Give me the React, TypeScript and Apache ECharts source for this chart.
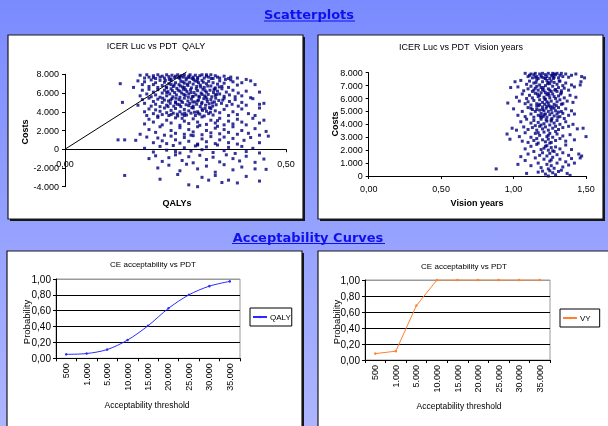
import React, { useEffect, useRef } from 'react';
import * as echarts from 'echarts';

// ---- QALY scatter (incremental QALYs, incremental costs) ----
const qalyBandTop = [[0.17,7900],[0.18,7600],[0.185,7950],[0.19,7700],[0.20,7850],[0.205,7550],[0.21,7950],[0.215,7700],[0.22,7800],[0.225,7600],[0.23,7950],[0.235,7750],[0.24,7500],[0.242,7900],[0.248,7650],[0.25,7800],[0.255,7950],[0.26,7550],[0.263,7850],[0.268,7700],[0.27,7950],[0.275,7600],[0.28,7800],[0.283,7950],[0.288,7550],[0.29,7700],[0.295,7900],[0.30,7650],[0.305,7850],[0.31,7950],[0.315,7600],[0.32,7800],[0.325,7700],[0.33,7950],[0.335,7550],[0.34,7850],[0.345,7700],[0.35,7600],[0.36,7800],[0.37,7550],[0.375,7700],[0.39,7600],[0.41,7450],[0.2,7650],[0.26,7750],[0.3,7500],[0.32,7950]];
const qalyBand7000 = [[0.125,7000],[0.155,6600],[0.165,7300],[0.175,6900],[0.18,7200],[0.19,6700],[0.195,7400],[0.20,6900],[0.205,7100],[0.21,6600],[0.215,7350],[0.22,6800],[0.225,7150],[0.23,6550],[0.235,7000],[0.24,7300],[0.245,6700],[0.25,7100],[0.253,6500],[0.258,6900],[0.262,7250],[0.266,6650],[0.27,7050],[0.274,7400],[0.278,6800],[0.282,7150],[0.286,6550],[0.29,6950],[0.294,7300],[0.298,6700],[0.302,7100],[0.306,6850],[0.31,7350],[0.315,6600],[0.32,7000],[0.325,7250],[0.33,6750],[0.335,7100],[0.34,6550],[0.345,6950],[0.35,7300],[0.355,6700],[0.36,7050],[0.37,6600],[0.38,7200],[0.39,6850],[0.40,7100],[0.42,7300],[0.43,6900],[0.375,7400],[0.27,6600],[0.24,6900]];
const qalyBand6000 = [[0.17,5700],[0.175,6300],[0.185,5900],[0.19,6400],[0.195,5600],[0.20,6100],[0.205,5800],[0.21,6350],[0.215,5550],[0.22,6000],[0.225,6300],[0.23,5700],[0.233,6150],[0.237,5900],[0.24,6450],[0.244,5600],[0.248,6050],[0.252,5800],[0.256,6300],[0.26,5550],[0.264,6000],[0.268,6400],[0.272,5750],[0.276,6150],[0.28,5900],[0.284,6350],[0.288,5600],[0.292,6050],[0.296,5800],[0.30,6250],[0.304,5550],[0.308,6000],[0.312,6400],[0.316,5700],[0.32,6100],[0.324,5850],[0.328,6300],[0.332,5600],[0.336,6050],[0.34,5750],[0.345,6200],[0.35,5900],[0.355,6450],[0.36,5650],[0.365,6100],[0.372,5800],[0.38,6300],[0.385,5600],[0.392,6000],[0.40,5700],[0.41,6200],[0.42,5500],[0.44,6100],[0.29,5650],[0.26,6200],[0.31,5850],[0.23,6050]];
const qalyBand5000 = [[0.13,5000],[0.165,4700],[0.175,5300],[0.18,4900],[0.19,5450],[0.195,4600],[0.20,5100],[0.205,4800],[0.21,5350],[0.215,4550],[0.22,5000],[0.225,5250],[0.23,4700],[0.234,5150],[0.238,4900],[0.242,5400],[0.246,4600],[0.25,5050],[0.254,4800],[0.258,5300],[0.262,4550],[0.266,5000],[0.27,5450],[0.274,4750],[0.278,5150],[0.282,4900],[0.286,5350],[0.29,4600],[0.294,5050],[0.298,4800],[0.302,5250],[0.306,4550],[0.31,5000],[0.314,5400],[0.318,4700],[0.322,5100],[0.326,4850],[0.33,5300],[0.334,4600],[0.338,5050],[0.342,4750],[0.348,5200],[0.354,4900],[0.36,5450],[0.366,4650],[0.372,5100],[0.378,4800],[0.385,5300],[0.392,4600],[0.40,5000],[0.41,4700],[0.425,5400],[0.44,4800],[0.45,4900],[0.28,4650],[0.3,5150],[0.25,4950]];
const qalyBand4000 = [[0.18,4000],[0.185,3600],[0.19,4300],[0.20,3800],[0.205,4200],[0.21,3550],[0.215,4050],[0.22,3700],[0.225,4400],[0.23,3900],[0.235,3600],[0.24,4150],[0.245,3850],[0.25,4350],[0.255,3550],[0.26,4000],[0.265,3750],[0.27,4250],[0.275,3650],[0.28,4100],[0.285,3850],[0.29,4400],[0.295,3600],[0.30,4000],[0.305,3750],[0.31,4300],[0.315,3550],[0.32,4050],[0.325,3800],[0.33,4350],[0.335,3650],[0.34,4100],[0.35,3900],[0.36,4250],[0.37,3600],[0.38,4000],[0.39,3700],[0.40,4300],[0.415,3800],[0.43,3600],[0.44,4400],[0.27,3600],[0.24,3700]];
const qalyBandCore = [[0.227,7350],[0.243,6250],[0.251,5450],[0.259,4750],[0.267,7200],[0.273,6350],[0.279,5550],[0.287,4450],[0.291,7450],[0.297,6450],[0.303,5650],[0.309,4850],[0.313,7150],[0.317,6250],[0.321,5350],[0.327,4450],[0.331,7550],[0.337,6350],[0.341,5450],[0.233,4550],[0.239,5250],[0.247,6850],[0.257,7650],[0.263,5150],[0.271,3850],[0.277,6950],[0.281,7650],[0.289,5050],[0.293,3950],[0.299,7250],[0.307,6650],[0.311,4150],[0.319,5550],[0.323,6750],[0.329,3950],[0.333,4950],[0.339,6450],[0.221,5450],[0.229,6650],[0.236,7450],[0.254,3750],[0.261,6750],[0.269,5850],[0.285,6050],[0.301,3850],[0.317,4350],[0.343,5850],[0.349,6650],[0.357,5250],[0.363,7450]];
const qalyBand3000 = [[0.18,2700],[0.19,3200],[0.2,2900],[0.21,3400],[0.22,2600],[0.23,3100],[0.24,2800],[0.25,3350],[0.26,2550],[0.27,3000],[0.28,2750],[0.29,3250],[0.3,2900],[0.31,3450],[0.32,2650],[0.33,3100],[0.34,2800],[0.35,3300],[0.36,2600],[0.37,3000],[0.38,2700],[0.39,3200],[0.4,2900],[0.41,2600],[0.425,3300],[0.44,2800],[0.45,3100],[0.265,3300],[0.305,2550],[0.345,3050]];
const qalyBand2000 = [[0.17,1600],[0.19,2100],[0.205,1800],[0.215,2400],[0.225,1500],[0.24,2000],[0.25,1700],[0.26,2300],[0.27,1600],[0.28,2100],[0.29,1850],[0.3,2400],[0.31,1550],[0.32,2000],[0.33,1750],[0.34,2250],[0.35,1650],[0.36,2100],[0.37,1800],[0.38,2400],[0.39,1600],[0.4,2000],[0.415,1700],[0.43,2200],[0.44,1500],[0.455,1900],[0.285,1500],[0.345,2450]];
const qalyBand1000 = [[0.12,1000],[0.135,1000],[0.16,950],[0.185,1300],[0.2,700],[0.21,1200],[0.22,900],[0.23,600],[0.24,1400],[0.25,1000],[0.26,650],[0.27,1250],[0.28,850],[0.29,1450],[0.3,550],[0.31,1100],[0.32,800],[0.33,1350],[0.34,600],[0.35,1000],[0.36,1300],[0.37,700],[0.38,1150],[0.39,550],[0.405,950],[0.42,1250],[0.44,700],[0.46,1400]];
const qalyBandZero = [[0.18,100],[0.2,-300],[0.215,300],[0.23,-100],[0.245,400],[0.26,-400],[0.27,150],[0.285,-200],[0.295,350],[0.31,-50],[0.32,250],[0.335,-350],[0.345,450],[0.36,-150],[0.37,200],[0.385,-450],[0.4,300],[0.41,-250],[0.425,100],[0.44,-400],[0.3,450],[0.25,-250]];
const qalyBandNeg1 = [[0.19,-1000],[0.205,-700],[0.22,-1300],[0.235,-900],[0.25,-600],[0.265,-1200],[0.28,-800],[0.29,-1450],[0.305,-650],[0.32,-1100],[0.335,-850],[0.35,-1350],[0.365,-600],[0.38,-1000],[0.395,-1250],[0.41,-750],[0.43,-1400],[0.45,-1050]];
const qalyBandNeg2 = [[0.21,-2000],[0.235,-1700],[0.26,-2300],[0.275,-1600],[0.3,-2100],[0.32,-1800],[0.34,-2450],[0.36,-1650],[0.38,-2200],[0.4,-1900],[0.43,-2100],[0.455,-2150]];
const qalyBandNeg3 = [[0.135,-2800],[0.215,-3200],[0.255,-2700],[0.28,-3800],[0.3,-4000],[0.31,-3000],[0.325,-3300],[0.34,-2800],[0.355,-3550],[0.37,-3300],[0.39,-3600],[0.41,-2900],[0.44,-3400]];

// ---- Vision years scatter ----
const visBandTop = [[1.08,7950],[1.1,7700],[1.12,7900],[1.13,7600],[1.14,7850],[1.15,7950],[1.16,7700],[1.17,7550],[1.18,7900],[1.19,7750],[1.2,7950],[1.21,7600],[1.22,7850],[1.23,7700],[1.24,7950],[1.25,7550],[1.26,7800],[1.27,7950],[1.28,7650],[1.29,7850],[1.3,7950],[1.31,7600],[1.32,7800],[1.33,7950],[1.34,7700],[1.36,7900],[1.38,7650],[1.4,7800],[1.43,7900],[1.47,7700],[1.49,7600],[1.15,7650],[1.22,7550],[1.28,7900],[1.11,7800]];
const visBand7000 = [[0.98,6850],[1.01,7300],[1.03,6900],[1.05,7400],[1.07,6600],[1.09,7100],[1.1,6750],[1.11,7350],[1.12,6950],[1.13,6550],[1.14,7200],[1.15,6800],[1.16,7450],[1.17,6650],[1.18,7050],[1.19,6850],[1.2,7300],[1.21,6600],[1.22,7000],[1.23,7400],[1.24,6750],[1.25,7150],[1.26,6550],[1.27,6950],[1.28,7250],[1.29,6700],[1.3,7100],[1.31,6850],[1.32,7350],[1.33,6600],[1.34,7000],[1.35,6800],[1.36,7200],[1.38,6650],[1.4,7050],[1.42,6900],[1.46,7050],[1.465,7300],[1.2,6700],[1.26,7350],[1.16,6950]];
const visBand6000 = [[0.96,5650],[1.02,6100],[1.04,5800],[1.06,6350],[1.08,5600],[1.09,6000],[1.1,5750],[1.11,6250],[1.12,5500],[1.13,6050],[1.14,5850],[1.15,6400],[1.16,5600],[1.17,6150],[1.18,5900],[1.19,6450],[1.2,5700],[1.21,6100],[1.215,5550],[1.22,5950],[1.23,6300],[1.24,5650],[1.25,6050],[1.26,5800],[1.27,6350],[1.28,5550],[1.29,6000],[1.3,5750],[1.31,6200],[1.32,5900],[1.33,6450],[1.34,5600],[1.35,6050],[1.37,5800],[1.39,6250],[1.41,5700],[1.43,6100],[1.24,6400],[1.18,5550],[1.28,6150]];
const visBand5000 = [[1.0,5200],[1.03,4700],[1.06,5000],[1.08,4600],[1.1,5300],[1.12,4800],[1.13,5150],[1.14,4550],[1.15,5000],[1.16,5400],[1.17,4700],[1.18,5100],[1.19,4850],[1.2,5350],[1.205,4600],[1.21,5050],[1.22,4800],[1.225,5250],[1.23,4550],[1.24,5000],[1.245,5450],[1.25,4750],[1.26,5150],[1.265,4900],[1.27,5350],[1.28,4650],[1.29,5050],[1.3,4800],[1.31,5300],[1.32,4600],[1.33,5000],[1.34,4850],[1.36,5200],[1.38,4700],[1.4,5050],[1.42,4800],[1.19,4550],[1.23,5400]];
const visBandCore = [[1.155,7250],[1.165,6350],[1.175,5450],[1.185,4650],[1.195,7650],[1.205,6850],[1.215,5950],[1.225,4350],[1.235,7150],[1.245,6250],[1.255,5350],[1.265,4450],[1.275,7550],[1.285,6650],[1.295,5450],[1.305,4550],[1.315,7350],[1.325,6350],[1.17,3350],[1.19,3950],[1.21,4750],[1.23,5750],[1.25,6650],[1.27,7750],[1.29,3450],[1.31,4950],[1.2,5150],[1.22,6450],[1.24,7250],[1.26,4250],[1.28,5250],[1.3,6550],[1.16,5150],[1.18,6250],[1.14,6650],[1.12,5250],[1.33,5550],[1.35,4450],[1.23,2350],[1.25,2550],[1.27,1950],[1.21,2150],[1.26,1250],[1.29,2250],[1.24,3150]];
const visBand4000 = [[0.99,3700],[1.02,3550],[1.05,4200],[1.07,3800],[1.09,4400],[1.1,3600],[1.12,4100],[1.13,3750],[1.14,4300],[1.15,3900],[1.16,3550],[1.17,4150],[1.18,3850],[1.19,4400],[1.2,3650],[1.21,4050],[1.22,3800],[1.23,4250],[1.24,3550],[1.25,3950],[1.26,4350],[1.27,3700],[1.28,4100],[1.29,3850],[1.3,4300],[1.31,3600],[1.32,4000],[1.34,3750],[1.36,4200],[1.38,3850],[1.41,4000],[1.44,3650],[1.48,3700]];
const visBand3000 = [[0.955,3250],[0.975,2850],[1.04,3050],[1.06,2700],[1.08,3350],[1.1,2600],[1.12,3000],[1.14,2750],[1.15,3300],[1.16,2900],[1.17,2550],[1.18,3150],[1.2,2800],[1.21,3400],[1.22,2650],[1.23,3050],[1.24,2850],[1.25,3300],[1.26,2600],[1.27,3000],[1.29,2750],[1.3,3250],[1.32,2900],[1.34,3100],[1.36,2700],[1.39,3200],[1.42,2800],[1.5,3050]];
const visBand2000 = [[1.05,1500],[1.08,2100],[1.1,1700],[1.12,2300],[1.14,1900],[1.16,2450],[1.18,1600],[1.19,2050],[1.2,1800],[1.22,2300],[1.23,1550],[1.24,2000],[1.25,1750],[1.26,2200],[1.28,1900],[1.3,1650],[1.32,2100],[1.34,1800],[1.36,2400],[1.38,1600],[1.4,2050],[1.45,1700],[1.47,1550]];
const visBand1000 = [[1.03,900],[1.08,1200],[1.12,800],[1.15,1400],[1.17,1000],[1.19,650],[1.21,1300],[1.23,900],[1.24,550],[1.25,1150],[1.26,800],[1.27,1450],[1.28,600],[1.3,1000],[1.32,1300],[1.34,700],[1.36,1100],[1.38,850],[1.4,1350],[1.42,1000],[1.46,1400]];
const visBandZero = [[0.88,550],[1.09,200],[1.17,300],[1.22,150],[1.24,0],[1.25,400],[1.27,250],[1.29,100],[1.31,350],[1.37,200],[1.39,50],[1.33,450],[1.2,380]];

// ---- ICER threshold line ----
const thresholdLine = [[0, 0], [0.275, 8250]];

// ---- Acceptability curves ----
const thresholds = ['500', '1.000', '5.000', '10.000', '15.000', '20.000', '25.000', '30.000', '35.000'];
const qalyAccept = [0.05, 0.06, 0.11, 0.23, 0.41, 0.63, 0.80, 0.91, 0.97];
const vyAccept = [0.08, 0.11, 0.68, 1.0, 1.0, 1.0, 1.0, 1.0, 1.0];

const qalyPoints = [...qalyBandTop, ...qalyBand7000, ...qalyBand6000, ...qalyBand5000, ...qalyBand4000, ...qalyBandCore, ...qalyBand3000, ...qalyBand2000, ...qalyBand1000, ...qalyBandZero, ...qalyBandNeg1, ...qalyBandNeg2, ...qalyBandNeg3];
const visPoints = [...visBandTop, ...visBand7000, ...visBand6000, ...visBand5000, ...visBandCore, ...visBand4000, ...visBand3000, ...visBand2000, ...visBand1000, ...visBandZero];

const FONT = 'Liberation Sans';
const fmtThousands = (v: number) => {
  const a = Math.round(Math.abs(v)).toString().replace(/\B(?=(\d{3})+(?!\d))/g, '.');
  return (v < 0 ? '-' : '') + a;
};
const fmtComma = (v: number) => v.toFixed(2).replace('.', ',');

const blackAxis = { lineStyle: { color: '#000', width: 1 } };
const labelStyle = { color: '#000', fontSize: 9, fontFamily: FONT };

export default function App() {
  const ref = useRef<HTMLDivElement>(null);
  useEffect(() => {
    if (!ref.current) return;
    const chart = echarts.init(ref.current, null, { renderer: 'svg' });

    const panel = (x: number, y: number, w: number, h: number) => [
      { type: 'rect', z: -9, shape: { x: x + 2, y: y + 2, width: w, height: h }, style: { fill: '#151515' } },
      { type: 'rect', z: -8, shape: { x, y, width: w, height: h }, style: { fill: '#fff', stroke: '#1a1a1a', lineWidth: 1.2 } },
    ];
    const txt = (text: string, x: number, y: number, size: number, opts: any = {}) => ({
      type: 'text', z: 50, x, y, rotation: opts.rotation || 0,
      style: {
        text, fill: opts.fill || '#000', fontSize: size, fontFamily: opts.family || FONT,
        fontWeight: opts.bold ? 'bold' : 'normal', align: 'center', verticalAlign: 'middle',
      },
    });

    const catAxis = (gridIndex: number) => ({
      type: 'category', gridIndex, data: thresholds, boundaryGap: true,
      axisLine: blackAxis,
      axisTick: { show: true, length: 3, lineStyle: { color: '#000' } },
      axisLabel: { ...labelStyle, rotate: 90, interval: 0, margin: 5 },
      splitLine: { show: false },
    });
    const probAxis = (gridIndex: number) => ({
      type: 'value', gridIndex, min: 0, max: 1, interval: 0.2,
      axisLine: { show: true, ...blackAxis },
      axisTick: { show: true, length: 3, lineStyle: { color: '#000' } },
      axisLabel: { ...labelStyle, fontSize: 10, margin: 5, formatter: fmtComma },
      splitLine: { show: true, lineStyle: { color: ['#000', '#000', '#000', '#000', '#000', '#9a9a9a'], width: 1 } },
    });
    const legendBase = {
      orient: 'vertical', backgroundColor: '#fff', borderColor: '#000', borderWidth: 1, borderRadius: 0,
      itemWidth: 14, itemHeight: 3, itemGap: 0,
      textStyle: { color: '#000', fontSize: 8, fontFamily: FONT, padding: [0, 0, 0, -2] },
    };

    chart.setOption({
      animation: false,
      textStyle: { fontFamily: FONT },
      graphic: [
        {
          type: 'rect', z: -10, shape: { x: 0, y: 0, width: 608, height: 426 },
          style: {
            fill: new echarts.graphic.LinearGradient(0, 0, 0, 1, [
              { offset: 0, color: '#7a8bff' },
              { offset: 1, color: '#adb5ff' },
            ]),
          },
        },
        ...panel(8, 35, 295, 184),
        ...panel(318, 35, 285, 184),
        ...panel(7, 251, 295, 190),
        ...panel(318, 251, 300, 190),
        txt('Scatterplots', 309, 14, 13, { bold: true, fill: '#1010ee', family: 'DejaVu Sans' }),
        { type: 'line', z: 50, shape: { x1: 264, y1: 21, x2: 355, y2: 21 }, style: { stroke: '#1010ee', lineWidth: 1 } },
        txt('Acceptability Curves', 308, 237, 13, { bold: true, fill: '#1010ee', family: 'DejaVu Sans' }),
        { type: 'line', z: 50, shape: { x1: 232, y1: 243.5, x2: 385, y2: 243.5 }, style: { stroke: '#1010ee', lineWidth: 1 } },
        txt('ICER Luc vs PDT  QALY', 156, 46, 9),
        txt('ICER Luc vs PDT  Vision years', 461, 47, 9),
        txt('Costs', 25, 132, 9, { bold: true, rotation: Math.PI / 2 }),
        txt('QALYs', 177, 203, 9, { bold: true }),
        txt('Costs', 335, 124, 9, { bold: true, rotation: Math.PI / 2 }),
        txt('Vision years', 477, 203, 9, { bold: true }),
        txt('CE acceptability vs PDT', 153, 264, 8),
        txt('CE acceptability vs PDT', 464, 266, 8),
        txt('Probability', 26, 322, 9.5, { rotation: Math.PI / 2 }),
        txt('Probability', 336, 322, 9.5, { rotation: Math.PI / 2 }),
        txt('Acceptability threshold', 147, 405, 8.5),
        txt('Acceptability threshold', 459, 406, 8.5),
      ],
      grid: [
        { left: 65, top: 74.3, width: 221, height: 112.4 },
        { left: 368.7, top: 72.7, width: 217.3, height: 103.3 },
        { left: 56, top: 279, width: 184, height: 79.3, show: true, backgroundColor: '#fff', borderColor: '#9a9a9a', borderWidth: 1 },
        { left: 365, top: 280, width: 185, height: 80, show: true, backgroundColor: '#fff', borderColor: '#9a9a9a', borderWidth: 1 },
      ],
      xAxis: [
        {
          type: 'value', gridIndex: 0, min: 0, max: 0.5, interval: 0.5,
          axisLine: { show: true, onZero: true, ...blackAxis },
          axisTick: { show: true, length: 3, lineStyle: { color: '#000' } },
          axisLabel: { ...labelStyle, margin: -27, formatter: fmtComma },
          splitLine: { show: false },
        },
        {
          type: 'value', gridIndex: 1, min: 0, max: 1.5, interval: 0.5,
          axisLine: { show: true, ...blackAxis },
          axisTick: { show: true, length: 3, lineStyle: { color: '#000' } },
          axisLabel: { ...labelStyle, margin: 8, formatter: fmtComma },
          splitLine: { show: false },
        },
        catAxis(2),
        catAxis(3),
      ],
      yAxis: [
        {
          type: 'value', gridIndex: 0, min: -4000, max: 8000, interval: 2000,
          axisLine: { show: true, onZero: false, ...blackAxis },
          axisTick: { show: true, length: 3, lineStyle: { color: '#000' } },
          axisLabel: { ...labelStyle, margin: 6, formatter: fmtThousands },
          splitLine: { show: false },
        },
        {
          type: 'value', gridIndex: 1, min: 0, max: 8000, interval: 1000,
          axisLine: { show: true, onZero: false, ...blackAxis },
          axisTick: { show: true, length: 3, lineStyle: { color: '#000' } },
          axisLabel: { ...labelStyle, margin: 6, formatter: fmtThousands },
          splitLine: { show: false },
        },
        probAxis(2),
        probAxis(3),
      ],
      legend: [
        { ...legendBase, data: ['QALY'], left: 250, top: 308, padding: [5, 1, 5, 2] },
        { ...legendBase, data: ['VY'], left: 560, top: 309, padding: [5, 9, 5, 2] },
      ],
      series: [
        {
          type: 'scatter', xAxisIndex: 0, yAxisIndex: 0, data: qalyPoints,
          symbol: 'rect', symbolSize: 3, itemStyle: { color: '#000080' },
        },
        {
          type: 'line', xAxisIndex: 0, yAxisIndex: 0, data: thresholdLine, clip: false,
          symbol: 'none', lineStyle: { color: '#000', width: 1 }, z: 3,
        },
        {
          type: 'scatter', xAxisIndex: 1, yAxisIndex: 1, data: visPoints,
          symbol: 'rect', symbolSize: 3, itemStyle: { color: '#000080' },
        },
        {
          name: 'QALY', type: 'line', xAxisIndex: 2, yAxisIndex: 2, data: qalyAccept,
          smooth: 0.3, symbol: 'circle', symbolSize: 2.5,
          lineStyle: { color: '#2b2bff', width: 1 }, itemStyle: { color: '#2b2bff' },
        },
        {
          name: 'VY', type: 'line', xAxisIndex: 3, yAxisIndex: 3, data: vyAccept,
          symbol: 'circle', symbolSize: 2.5,
          lineStyle: { color: '#ff8030', width: 1 }, itemStyle: { color: '#ff8030' },
        },
      ],
    });
    return () => chart.dispose();
  }, []);
  return <div ref={ref} style={{ position: 'fixed', left: 0, top: 0, width: 608, height: 426 }} />;
}
